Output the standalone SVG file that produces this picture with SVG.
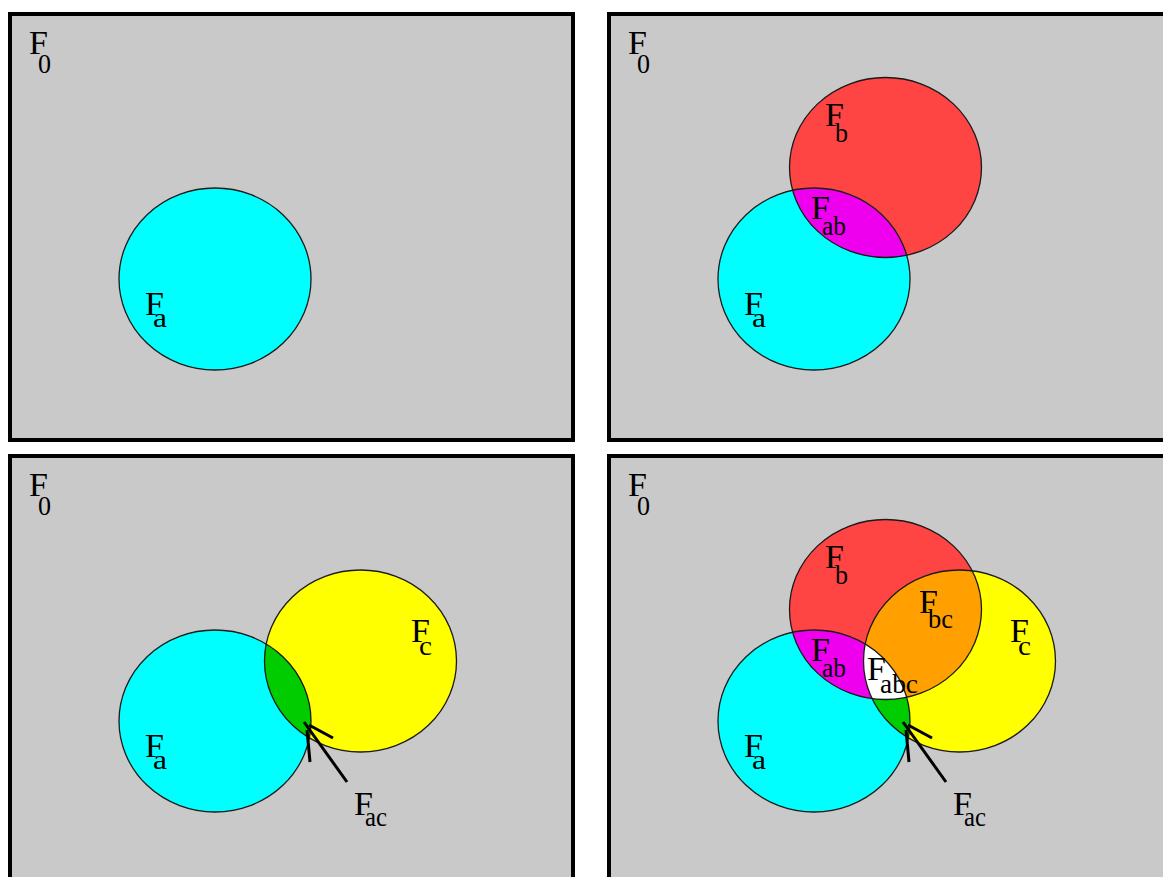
<svg xmlns="http://www.w3.org/2000/svg" width="1163" height="877" viewBox="0 0 1163 877">
<style>
.panel{fill:#c9c9c9;stroke:#000;stroke-width:4}
.ol{fill:none;stroke:#1a1a1a;stroke-width:1.3}
.F{font-family:"Liberation Serif","Times New Roman",serif;font-size:34px;fill:#000}
.s{font-family:"Liberation Serif","Times New Roman",serif;font-size:28px;fill:#000}
.arr{fill:none;stroke:#000;stroke-width:3;stroke-linecap:butt}
</style>
<defs>
<clipPath id="p2a"><ellipse cx="814" cy="279" rx="96" ry="91"/></clipPath>
<clipPath id="p3a"><ellipse cx="215" cy="721" rx="96" ry="91"/></clipPath>
<clipPath id="p4a"><ellipse cx="814" cy="721" rx="96" ry="91"/></clipPath>
<clipPath id="p4b"><ellipse cx="885.5" cy="609.5" rx="96" ry="90"/></clipPath>
</defs>
<rect width="1163" height="877" fill="#fff"/>

<!-- Panel 1 -->
<g id="panel1">
<rect class="panel" x="10" y="14" width="563" height="426"/>
<g id="p1-Fa"><ellipse cx="215" cy="279" rx="96" ry="91" fill="#00ffff"/><ellipse class="ol" cx="215" cy="279" rx="96" ry="91"/></g>
<g id="p1-F0-label"><text class="F" x="29" y="54">F</text><text class="s" x="38" y="73" textLength="13" lengthAdjust="spacingAndGlyphs">0</text></g>
<g id="p1-Fa-label"><text class="F" x="145" y="315">F</text><text class="s" x="153" y="327" textLength="14" lengthAdjust="spacingAndGlyphs">a</text></g>
</g>

<!-- Panel 2 -->
<g id="panel2">
<rect class="panel" x="609" y="14" width="563" height="426"/>
<g id="p2-Fa"><ellipse cx="814" cy="279" rx="96" ry="91" fill="#00ffff"/></g>
<g id="p2-Fb"><ellipse cx="885.5" cy="167.5" rx="96" ry="90" fill="#ff4444"/></g>
<g id="p2-Fab"><ellipse cx="885.5" cy="167.5" rx="96" ry="90" fill="#ee00ee" clip-path="url(#p2a)"/></g>
<ellipse class="ol" cx="814" cy="279" rx="96" ry="91"/>
<ellipse class="ol" cx="885.5" cy="167.5" rx="96" ry="90"/>
<g id="p2-F0-label"><text class="F" x="628" y="54">F</text><text class="s" x="637" y="73" textLength="13" lengthAdjust="spacingAndGlyphs">0</text></g>
<g id="p2-Fb-label"><text class="F" x="825" y="126">F</text><text class="s" x="835" y="142" textLength="13" lengthAdjust="spacingAndGlyphs">b</text></g>
<g id="p2-Fab-label"><text class="F" x="811" y="219">F</text><text class="s" x="822" y="235" textLength="24" lengthAdjust="spacingAndGlyphs">ab</text></g>
<g id="p2-Fa-label"><text class="F" x="744" y="315">F</text><text class="s" x="752" y="327" textLength="14" lengthAdjust="spacingAndGlyphs">a</text></g>
</g>

<!-- Panel 3 -->
<g id="panel3">
<rect class="panel" x="10" y="456" width="563" height="426"/>
<g id="p3-Fa"><ellipse cx="215" cy="721" rx="96" ry="91" fill="#00ffff"/></g>
<g id="p3-Fc"><ellipse cx="360.5" cy="661" rx="96" ry="91" fill="#ffff00"/></g>
<g id="p3-Fac"><ellipse cx="360.5" cy="661" rx="96" ry="91" fill="#00cc00" clip-path="url(#p3a)"/></g>
<ellipse class="ol" cx="215" cy="721" rx="96" ry="91"/>
<ellipse class="ol" cx="360.5" cy="661" rx="96" ry="91"/>
<g id="p3-F0-label"><text class="F" x="29" y="496">F</text><text class="s" x="38" y="515" textLength="13" lengthAdjust="spacingAndGlyphs">0</text></g>
<g id="p3-Fa-label"><text class="F" x="145" y="757">F</text><text class="s" x="153" y="769" textLength="14" lengthAdjust="spacingAndGlyphs">a</text></g>
<g id="p3-Fc-label"><text class="F" x="411" y="642">F</text><text class="s" x="419" y="655" textLength="13" lengthAdjust="spacingAndGlyphs">c</text></g>
<g id="p3-Fac-label"><text class="F" x="354" y="815">F</text><text class="s" x="365" y="826" textLength="22" lengthAdjust="spacingAndGlyphs">ac</text></g>
</g>

<!-- Panel 4 -->
<g id="panel4">
<rect class="panel" x="609" y="456" width="563" height="426"/>
<g id="p4-Fa"><ellipse cx="814" cy="721" rx="96" ry="91" fill="#00ffff"/></g>
<g id="p4-Fb"><ellipse cx="885.5" cy="609.5" rx="96" ry="90" fill="#ff4444"/></g>
<g id="p4-Fc"><ellipse cx="959.5" cy="661" rx="96" ry="91" fill="#ffff00"/></g>
<g id="p4-Fab"><ellipse cx="885.5" cy="609.5" rx="96" ry="90" fill="#ee00ee" clip-path="url(#p4a)"/></g>
<g id="p4-Fac"><ellipse cx="959.5" cy="661" rx="96" ry="91" fill="#00cc00" clip-path="url(#p4a)"/></g>
<g id="p4-Fbc"><ellipse cx="959.5" cy="661" rx="96" ry="91" fill="#ffa000" clip-path="url(#p4b)"/></g>
<g id="p4-Fabc"><g clip-path="url(#p4a)"><ellipse cx="959.5" cy="661" rx="96" ry="91" fill="#ffffff" clip-path="url(#p4b)"/></g></g>
<ellipse class="ol" cx="814" cy="721" rx="96" ry="91"/>
<ellipse class="ol" cx="885.5" cy="609.5" rx="96" ry="90"/>
<ellipse class="ol" cx="959.5" cy="661" rx="96" ry="91"/>
<g id="p4-F0-label"><text class="F" x="628" y="496">F</text><text class="s" x="637" y="515" textLength="13" lengthAdjust="spacingAndGlyphs">0</text></g>
<g id="p4-Fb-label"><text class="F" x="825" y="568">F</text><text class="s" x="835" y="584" textLength="13" lengthAdjust="spacingAndGlyphs">b</text></g>
<g id="p4-Fab-label"><text class="F" x="811" y="661">F</text><text class="s" x="822" y="677" textLength="24" lengthAdjust="spacingAndGlyphs">ab</text></g>
<g id="p4-Fa-label"><text class="F" x="744" y="757">F</text><text class="s" x="752" y="769" textLength="14" lengthAdjust="spacingAndGlyphs">a</text></g>
<g id="p4-Fbc-label"><text class="F" x="919" y="613">F</text><text class="s" x="928" y="628" textLength="25" lengthAdjust="spacingAndGlyphs">bc</text></g>
<g id="p4-Fc-label"><text class="F" x="1010" y="642">F</text><text class="s" x="1018" y="655" textLength="13" lengthAdjust="spacingAndGlyphs">c</text></g>
<g id="p4-Fabc-label"><text class="F" x="867" y="680">F</text><text class="s" x="880" y="693" textLength="38" lengthAdjust="spacingAndGlyphs">abc</text></g>
<g id="p4-Fac-label"><text class="F" x="953" y="815">F</text><text class="s" x="964" y="826" textLength="22" lengthAdjust="spacingAndGlyphs">ac</text></g>
</g>

<g id="connectors">
<line class="arr" x1="347" y1="782" x2="304" y2="722"/>
<line class="arr" x1="309" y1="725" x2="333" y2="738"/>
<line class="arr" x1="307" y1="730" x2="310" y2="762"/>
<line class="arr" x1="946" y1="782" x2="903" y2="722"/>
<line class="arr" x1="908" y1="725" x2="932" y2="738"/>
<line class="arr" x1="906" y1="730" x2="909" y2="762"/>
</g>
</svg>
